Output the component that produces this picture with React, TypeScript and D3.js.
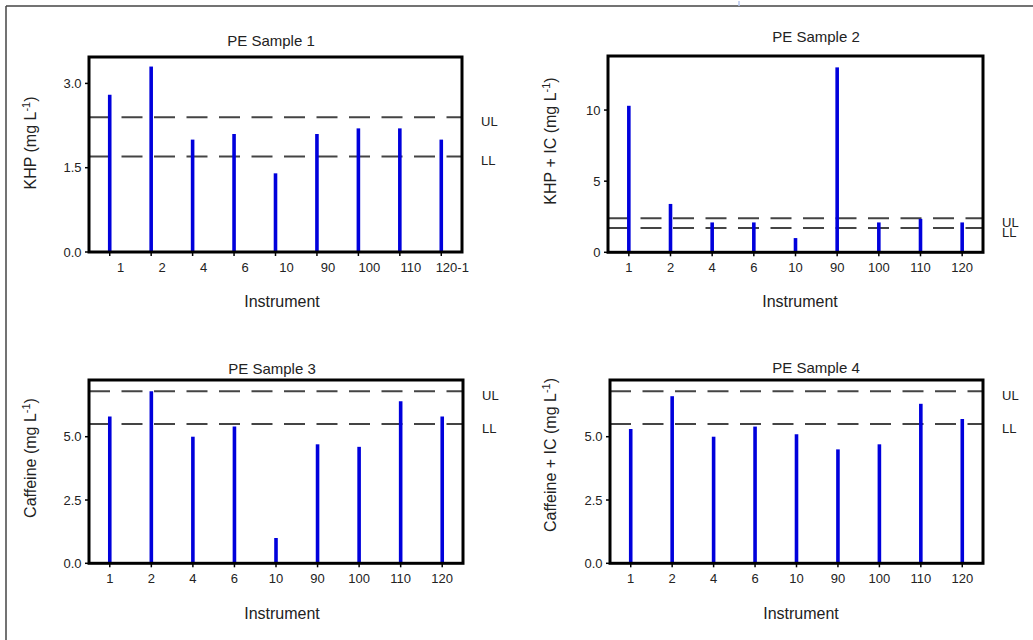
import React from "react";
import * as d3 from "d3";

// instrument ids on the x axis
const instrumentsPE1 = ["1", "2", "4", "6", "10", "90", "100", "110", "120-1"];
const instruments = ["1", "2", "4", "6", "10", "90", "100", "110", "120"];

// measured concentrations (mg/L), one per instrument
const khp = [2.8, 3.3, 2.0, 2.1, 1.4, 2.1, 2.2, 2.2, 2.0];
const khpIc = [10.3, 3.4, 2.1, 2.1, 1.0, 13.0, 2.1, 2.35, 2.1];
const caffeine = [5.8, 6.8, 5.0, 5.4, 1.0, 4.7, 4.6, 6.4, 5.8];
const caffeineIc = [5.3, 6.6, 5.0, 5.4, 5.1, 4.5, 4.7, 6.3, 5.7];

// upper / lower acceptance limits
const khpLimits = [2.4, 1.7];
const khpIcLimits = [2.4, 1.7];
const caffeineLimits = [6.8, 5.5];
const caffeineIcLimits = [6.8, 5.5];

// y tick values
const ticksPE1 = [0, 1.5, 3.0];
const ticksPE2 = [0, 5, 10];
const ticksPE3 = [0, 2.5, 5.0];
const ticksPE4 = [0, 2.5, 5.0];

const FONT = "Arial, 'Liberation Sans', sans-serif";
const INK = "#222";

const panels = [
  {
    title: "PE Sample 1", yName: "KHP", cats: instrumentsPE1, values: khp, limits: khpLimits,
    ticks: ticksPE1, fmt: ".1f", yMax: 3.47,
    box: { left: 89, right: 462, top: 57, bottom: 252 },
    titlePos: [271, 46], xLabPos: [282, 307], yLabPos: [30, 143], labelDx: 11,
  },
  {
    title: "PE Sample 2", yName: "KHP + IC", cats: instruments, values: khpIc, limits: khpIcLimits,
    ticks: ticksPE2, fmt: "d", yMax: 13.8,
    box: { left: 608, right: 983, top: 56, bottom: 252.3 },
    titlePos: [816, 42], xLabPos: [800, 307], yLabPos: [550, 141], labelDx: 0,
  },
  {
    title: "PE Sample 3", yName: "Caffeine", cats: instruments, values: caffeine, limits: caffeineLimits,
    ticks: ticksPE3, fmt: ".1f", yMax: 7.24,
    box: { left: 89, right: 463, top: 380, bottom: 563.3 },
    titlePos: [272, 373.5], xLabPos: [282, 618.5], yLabPos: [30, 458], labelDx: 0,
  },
  {
    title: "PE Sample 4", yName: "Caffeine + IC", cats: instruments, values: caffeineIc, limits: caffeineIcLimits,
    ticks: ticksPE4, fmt: ".1f", yMax: 7.24,
    box: { left: 610, right: 983, top: 380, bottom: 563.3 },
    titlePos: [816, 373], xLabPos: [801, 618.5], yLabPos: [550, 455], labelDx: 0,
  },
];

function Panel({ p }: { p: any }) {
  const { left, right, top, bottom } = p.box;
  const x = d3.scalePoint<string>().domain(p.cats).range([left, right]).padding(0.5);
  const y = d3.scaleLinear().domain([0, p.yMax]).range([bottom, top]);
  const fmt = d3.format(p.fmt);
  const limitNames = ["UL", "LL"];

  return (
    <g>
      <text x={p.titlePos[0]} y={p.titlePos[1]} textAnchor="middle" fontSize={15} fill={INK}>
        {p.title}
      </text>

      {/* limit lines */}
      {p.limits.map((v: number, i: number) => (
        <g key={"lim" + i}>
          <line x1={left} x2={right} y1={y(v)} y2={y(v)} stroke="#444" strokeWidth={2} strokeDasharray="21,11.5" />
          <text x={right + 19} y={y(v) + 4} dy="0.35em" fontSize={13} fill={INK}>
            {limitNames[i]}
          </text>
        </g>
      ))}

      {/* needle bars */}
      {p.values.map((v: number, i: number) => (
        <line key={"b" + i} x1={x(p.cats[i])} x2={x(p.cats[i])} y1={y(0)} y2={y(v)} stroke="#0000dc" strokeWidth={3.6} />
      ))}

      {/* frame */}
      <rect x={left} y={top} width={right - left} height={bottom - top} fill="none" stroke="#000" strokeWidth={3} />

      {/* y axis */}
      {p.ticks.map((t: number) => (
        <g key={"yt" + t}>
          <line x1={left - 4} x2={left} y1={y(t)} y2={y(t)} stroke="#000" strokeWidth={1.5} />
          <text x={left - 7.5} y={y(t)} dy="0.35em" textAnchor="end" fontSize={13} fill={INK}>
            {fmt(t)}
          </text>
        </g>
      ))}

      {/* x axis */}
      {p.cats.map((c: string) => (
        <g key={"xt" + c}>
          <line x1={x(c)} x2={x(c)} y1={bottom} y2={bottom + 4} stroke="#000" strokeWidth={1.5} />
          <text x={(x(c) as number) + p.labelDx} y={bottom + 20} textAnchor="middle" fontSize={13} fill={INK}>
            {c}
          </text>
        </g>
      ))}

      <text x={p.xLabPos[0]} y={p.xLabPos[1]} textAnchor="middle" fontSize={16} fill={INK}>
        Instrument
      </text>
      <text
        transform={`translate(${p.yLabPos[0]},${p.yLabPos[1]}) rotate(-90)`}
        dy="0.35em"
        textAnchor="middle"
        fontSize={16}
        fill={INK}
      >
        {p.yName} (mg L
        <tspan fontSize={11} dy={-6}>-1</tspan>
        <tspan dy={6}>)</tspan>
      </text>
    </g>
  );
}

export default function App() {
  return (
    <svg
      width={1033}
      height={640}
      style={{ position: "absolute", left: 0, top: 0, background: "#fff", fontFamily: FONT }}
    >
      <rect x={0} y={0} width={1033} height={640} fill="#fff" />
      {/* outer page frame */}
      <line x1={6} x2={1033} y1={6} y2={6} stroke="#444" strokeWidth={1.5} />
      <line x1={6} x2={6} y1={6} y2={640} stroke="#444" strokeWidth={1.5} />
      <line x1={739} x2={739} y1={1} y2={6} stroke="#b8c8f0" strokeWidth={1.5} />
      {panels.map((p) => (
        <Panel key={p.title} p={p} />
      ))}
    </svg>
  );
}
